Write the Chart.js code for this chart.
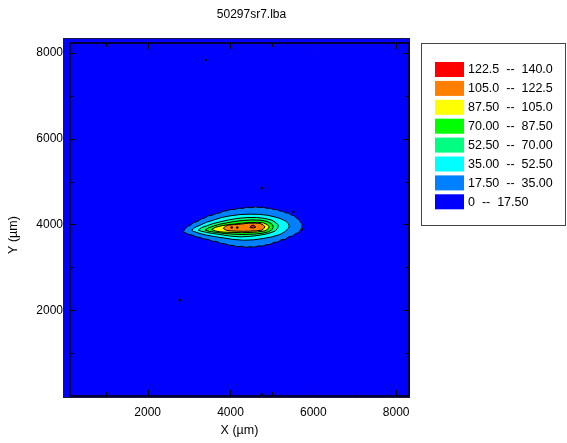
<!DOCTYPE html>
<html>
<head>
<meta charset="utf-8">
<script src="https://cdn.jsdelivr.net/npm/chart.js@4.4.1/dist/chart.umd.min.js"></script>
<style>
  body { margin: 0; background: #fff; }
</style>
</head>
<body>
<canvas id="contour-chart" width="567" height="443"></canvas>
<script>
const chartTitle = '50297sr7.lba';
const xTicks = [2000, 4000, 6000, 8000];
const yTicks = [2000, 4000, 6000, 8000];
const minorTicks = [1000, 3000, 5000, 7000];

// legend, top to bottom
const levelLabels = ['122.5  --  140.0', '105.0  --  122.5', '87.50  --  105.0', '70.00  --  87.50',
                     '52.50  --  70.00', '35.00  --  52.50', '17.50  --  35.00', '0  --  17.50'];
const levelColors = ['#ff0000', '#ff8000', '#ffff00', '#00ff00', '#00ff80', '#00ffff', '#0080ff', '#0000ff'];

// contour outlines (x, y in µm)
const contour17 = [[2861,3830],[2900,3890],[2960,3950],[3050,3990],[3100,4040],[3200,4070],[3300,4130],
  [3380,4150],[3460,4200],[3560,4215],[3667,4260],[3750,4270],[3820,4310],[3920,4320],[3988,4345],
  [4100,4350],[4200,4380],[4300,4375],[4391,4400],[4500,4390],[4600,4410],[4700,4395],[4792,4400],
  [4880,4375],[4960,4380],[5040,4345],[5115,4350],[5200,4310],[5260,4310],[5330,4270],[5395,4265],
  [5470,4220],[5540,4200],[5600,4140],[5660,4110],[5690,4050],[5730,4010],[5719,3943],[5740,3900],
  [5680,3860],[5640,3810],[5560,3780],[5500,3730],[5400,3710],[5320,3650],[5220,3640],[5140,3590],
  [5040,3580],[4950,3530],[4874,3530],[4780,3495],[4680,3500],[4580,3470],[4471,3480],[4370,3465],
  [4260,3490],[4150,3480],[4068,3510],[3960,3515],[3860,3550],[3760,3560],[3667,3600],[3560,3610],
  [3460,3650],[3360,3660],[3264,3695],[3170,3710],[3080,3750],[2981,3770],[2920,3800]];
const contour35 = [[3063,3866],[3140,3930],[3264,3983],[3420,4050],[3585,4100],[3780,4160],[3988,4200],
  [4230,4230],[4471,4240],[4680,4235],[4874,4216],[5050,4180],[5195,4139],[5320,4085],[5395,4023],
  [5420,3960],[5395,3906],[5310,3830],[5195,3766],[5000,3710],[4792,3673],[4550,3640],[4309,3633],
  [4060,3650],[3826,3687],[3620,3715],[3425,3750],[3290,3780],[3184,3813],[3100,3840]];
const contour52 = [[3223,3866],[3300,3925],[3425,3967],[3580,4020],[3746,4060],[3950,4105],[4150,4139],
  [4400,4160],[4632,4163],[4830,4140],[4995,4100],[5100,4040],[5154,3983],[5140,3910],[5074,3843],
  [4900,3785],[4712,3750],[4460,3720],[4229,3710],[3980,3730],[3746,3766],[3560,3790],[3425,3813],[3300,3840]];
const contour70 = [[3384,3866],[3470,3920],[3585,3960],[3740,4005],[3908,4037],[4100,4070],[4309,4093],
  [4520,4105],[4712,4100],[4860,4075],[4954,4037],[5020,3985],[5033,3929],[4990,3870],[4912,3827],
  [4740,3790],[4550,3773],[4300,3765],[4068,3773],[3850,3790],[3667,3813],[3500,3835]];
const contour87 = [[3546,3883],[3630,3930],[3746,3960],[3900,3990],[4068,4006],[4270,4030],[4471,4046],
  [4650,4048],[4792,4037],[4890,3995],[4937,3943],[4900,3890],[4833,3850],[4650,3825],[4471,3813],
  [4270,3808],[4068,3813],[3900,3818],[3746,3827],[3630,3850]];
const contour105 = [[3826,3906],[3870,3955],[3947,3983],[4080,3996],[4229,4006],[4350,4020],[4471,4030],
  [4600,4030],[4712,4023],[4790,3990],[4833,3943],[4800,3900],[4753,3866],[4620,3850],[4471,3843],
  [4310,3840],[4150,3843],[4020,3848],[3908,3859]];
const contour122 = [[4470,3925],[4500,3975],[4560,3982],[4615,3940],[4560,3918]];
const peakDots = [[4029,3929],[4164,3929]];
const specks = [[3409,7831],[4760,4846],[2781,2234],[4760,42],[5516,4293],[5719,3883]];

const toPts = arr => arr.concat([arr[0]]).map(p => ({ x: p[0], y: p[1] }));

const contours = [
  { data: contour122, color: levelColors[0] },
  { data: contour105, color: levelColors[1] },
  { data: contour87, color: levelColors[2] },
  { data: contour70, color: levelColors[3] },
  { data: contour52, color: levelColors[4] },
  { data: contour35, color: levelColors[5] },
  { data: contour17, color: levelColors[6] }
];

const FONT = "'Liberation Sans', Arial, sans-serif";

const framePlugin = {
  id: 'frame',
  beforeDatasetsDraw(chart) {
    const { ctx, chartArea: a } = chart;
    ctx.save();
    ctx.fillStyle = levelColors[7];
    ctx.fillRect(a.left - 7, a.top - 5, a.right - a.left + 8, a.bottom - a.top + 7);
    ctx.strokeStyle = '#1a1a40';
    ctx.lineWidth = 1;
    ctx.strokeRect(a.left - 6.5, a.top - 4.5, a.right - a.left + 7, a.bottom - a.top + 6);
    ctx.restore();
  },
  afterDatasetsDraw(chart) {
    const { ctx, chartArea: a, scales } = chart;
    ctx.save();
    ctx.strokeStyle = '#000';
    ctx.lineWidth = 1.5;
    ctx.strokeRect(a.left, a.top, a.right - a.left, a.bottom - a.top);
    ctx.lineWidth = 1;
    ctx.beginPath();
    xTicks.concat(minorTicks).forEach(v => {
      const len = xTicks.includes(v) ? 6 : 4;
      const px = Math.round(scales.x.getPixelForValue(v)) + 0.5;
      ctx.moveTo(px, a.bottom); ctx.lineTo(px, a.bottom - len);
      ctx.moveTo(px, a.top); ctx.lineTo(px, a.top + len);
      const py = Math.round(scales.y.getPixelForValue(v)) + 0.5;
      ctx.moveTo(a.left, py); ctx.lineTo(a.left + len, py);
      ctx.moveTo(a.right, py); ctx.lineTo(a.right - len, py);
    });
    ctx.stroke();
    ctx.restore();
  },
  afterDraw(chart) {
    const { ctx, chartArea: a } = chart;
    ctx.save();
    ctx.fillStyle = '#000';
    ctx.textAlign = 'center';
    ctx.textBaseline = 'middle';
    ctx.font = '12px ' + FONT;
    ctx.fillText(chartTitle, (a.left + a.right) / 2 + 12, 15);

    // y axis title
    ctx.save();
    ctx.translate(14, 235);
    ctx.rotate(-Math.PI / 2);
    ctx.font = '12.5px ' + FONT;
    ctx.fillText('Y (µm)', 0, 0);
    ctx.restore();

    // legend box
    ctx.strokeStyle = '#444';
    ctx.lineWidth = 1;
    ctx.strokeRect(421.5, 43.5, 144, 182);
    ctx.font = '12.5px ' + FONT;
    ctx.textAlign = 'left';
    levelLabels.forEach((lbl, i) => {
      const y = 62 + i * 18.9;
      ctx.fillStyle = levelColors[i];
      ctx.fillRect(435, y, 29, 15);
      ctx.fillStyle = '#000';
      ctx.fillText(lbl, 468, y + 8);
    });
    ctx.restore();
  }
};

const datasets = contours.map(c => ({
  type: 'line',
  data: toPts(c.data),
  fill: 'shape',
  backgroundColor: c.color,
  borderColor: '#000',
  borderWidth: 1,
  pointRadius: 0,
  tension: 0
}));
datasets.unshift({
  type: 'scatter',
  data: peakDots.concat(specks).map(p => ({ x: p[0], y: p[1] })),
  backgroundColor: '#000',
  borderWidth: 0,
  pointRadius: 1.2
});

const majorOnly = list => scale => { scale.ticks = list.map(v => ({ value: v })); };

new Chart(document.getElementById('contour-chart').getContext('2d'), {
  type: 'line',
  data: { datasets: datasets },
  options: {
    responsive: false,
    animation: false,
    layout: { padding: { top: 43, right: 158, left: 0, bottom: 0 } },
    plugins: {
      legend: { display: false },
      title: { display: false },
      tooltip: { enabled: false }
    },
    scales: {
      x: {
        type: 'linear',
        position: 'bottom',
        min: 125,
        max: 8310,
        grid: { display: false, drawTicks: false },
        border: { display: false },
        afterBuildTicks: majorOnly(xTicks),
        afterFit: s => { s.height = 47; },
        ticks: {
          padding: 9,
          color: '#000',
          font: { family: FONT, size: 12 },
          maxRotation: 0,
          autoSkip: false,
          callback: v => String(v)
        },
        title: {
          display: true,
          text: 'X (µm)',
          color: '#000',
          font: { family: FONT, size: 12.5 },
          padding: { top: 0, bottom: 5 }
        }
      },
      y: {
        type: 'linear',
        min: 0,
        max: 8230,
        grid: { display: false, drawTicks: false },
        border: { display: false },
        afterBuildTicks: majorOnly(yTicks),
        afterFit: s => { s.width = 70; },
        ticks: {
          padding: 7,
          color: '#000',
          font: { family: FONT, size: 12 },
          autoSkip: false,
          callback: v => String(v)
        }
      }
    }
  },
  plugins: [framePlugin]
});
</script>
</body>
</html>
